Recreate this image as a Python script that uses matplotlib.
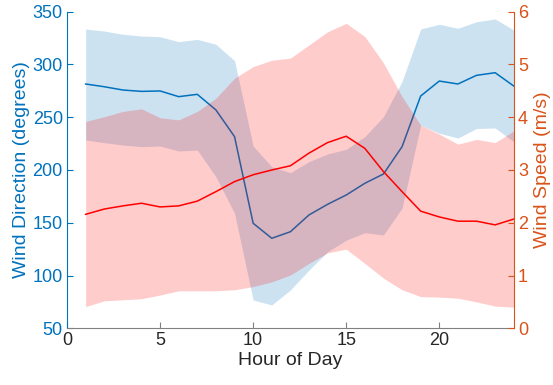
import matplotlib
matplotlib.use('Agg')
import matplotlib.pyplot as plt
import numpy as np

# hourly climatology: mean and spread band for direction and speed
hours = np.arange(1, 25)

dir_mean = [281.5, 278.9, 275.8, 274.5, 274.9, 269.5, 271.7, 256.9, 231.6, 149.5,
            135.3, 141.5, 157.4, 167.5, 176.3, 187.4, 196.2, 222.1, 270.1, 284.3,
            281.5, 289.7, 292.2, 279.6]
dir_upper = [333.6, 331.7, 328.6, 327.0, 326.3, 321.6, 323.8, 319.1, 303.6, 222.7,
             203.1, 197.4, 207.9, 215.2, 219.6, 231.6, 250.5, 284.0, 333.6, 338.1,
             334.3, 340.5, 343.1, 332.7]
dir_lower = [228.4, 225.9, 223.7, 222.1, 222.7, 218.0, 218.9, 193.6, 159.0, 76.8,
             72.1, 86.3, 105.2, 122.6, 133.5, 140.6, 138.4, 164.0, 242.5, 234.8,
             230.3, 239.3, 239.8, 226.8]

spd_mean = [2.16, 2.26, 2.32, 2.37, 2.30, 2.32, 2.41, 2.59, 2.78, 2.91,
            3.00, 3.08, 3.32, 3.52, 3.64, 3.41, 2.97, 2.59, 2.22, 2.11,
            2.03, 2.03, 1.96, 2.07]
spd_upper = [3.92, 4.01, 4.11, 4.16, 3.99, 3.95, 4.11, 4.36, 4.74, 4.96,
             5.08, 5.12, 5.37, 5.62, 5.78, 5.53, 5.03, 4.39, 3.85, 3.68,
             3.49, 3.58, 3.52, 3.74]
spd_lower = [0.41, 0.52, 0.54, 0.56, 0.63, 0.71, 0.71, 0.71, 0.73, 0.79,
             0.88, 1.01, 1.23, 1.43, 1.50, 1.23, 0.95, 0.73, 0.60, 0.59,
             0.57, 0.50, 0.42, 0.40]

x_ticks = [0, 5, 10, 15, 20]
dir_ticks = [50, 100, 150, 200, 250, 300, 350]
spd_ticks = [0, 1, 2, 3, 4, 5, 6]

BLUE = '#0072BD'
ORANGE = '#D95319'
RED = '#FF0000'
GREY = '#262626'

plt.rcParams['font.family'] = ['Liberation Sans', 'DejaVu Sans']

fig = plt.figure(figsize=(5.53, 3.85), dpi=100)
ax1 = fig.add_axes([0.1212, 0.1473, 0.8078, 0.8223])

ax1.fill_between(hours, dir_lower, dir_upper, color=BLUE, alpha=0.2, lw=0)
ax1.plot(hours, dir_mean, color=BLUE, lw=1.1)
ax1.set_xlim(0, 24)
ax1.set_ylim(50, 350)
ax1.set_xticks(x_ticks)
ax1.set_yticks(dir_ticks)

ax2 = ax1.twinx()
ax2.fill_between(hours, spd_lower, spd_upper, color=RED, alpha=0.2, lw=0)
ax2.plot(hours, spd_mean, color=RED, lw=1.1)
ax2.set_ylim(0, 6)
ax2.set_yticks(spd_ticks)

# matlab-like axes: inward ticks, no box on top
for ax in (ax1, ax2):
    ax.spines['top'].set_visible(False)
    ax.tick_params(direction='in', length=4, width=0.8, labelsize=13)

ax1.spines['left'].set_color(BLUE)
ax1.spines['bottom'].set_color('#808080')
ax1.spines['right'].set_visible(False)
ax2.spines['left'].set_visible(False)
ax2.spines['bottom'].set_visible(False)
ax2.spines['right'].set_color(ORANGE)

ax1.tick_params(axis='y', colors=BLUE, pad=3)
ax1.tick_params(axis='x', colors='#808080', labelcolor=GREY, pad=3)
ax2.tick_params(axis='y', colors=ORANGE, pad=3)

ax1.set_xlabel('Hour of Day', fontsize=14, color=GREY, labelpad=2)
ax1.set_ylabel('Wind Direction (degrees)', fontsize=14, color=BLUE, labelpad=2)
ax2.set_ylabel('Wind Speed (m/s)', fontsize=14, color=ORANGE, labelpad=4)

fig.savefig('out.png', dpi=100)
